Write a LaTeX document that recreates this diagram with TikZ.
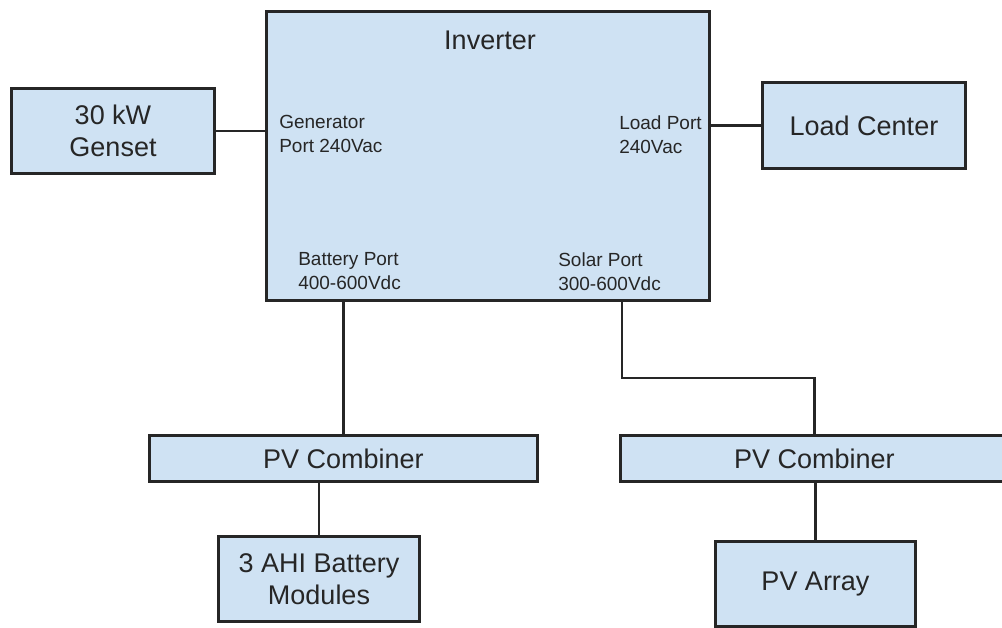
\documentclass[tikz,border=0pt]{standalone}
\usepackage{fontspec}
\setmainfont{Liberation Sans}
\usetikzlibrary{positioning}
\definecolor{boxblue}{HTML}{CFE2F3}
\definecolor{edgegray}{HTML}{262626}

\begin{document}
\begin{tikzpicture}[x=1pt, y=-1pt, line width=2.6pt, draw=edgegray,
  every node/.style={font=\fontsize{27}{32.5}\selectfont, text=edgegray, align=center},
  block/.style={draw=edgegray, fill=boxblue, inner sep=0pt},
  port/.style={font=\fontsize{19}{24}\selectfont, align=left, anchor=north west, inner sep=0pt}]
  \useasboundingbox (0,0) rectangle (1002,627);
  \node[block, minimum width=443, minimum height=289] (inv) at (488,156) {};
  \node (title) at (490,40) {Inverter};
  \node[port] (genport) at (278,113.5) {Generator\\Port 240Vac};
  \node[port] (loadport) at (618,114.5) {Load Port\\240Vac};
  \node[port] (battport) at (297,251.5) {Battery Port\\400-600Vdc};
  \node[port] (solarport) at (557,251.5) {Solar Port\\300-600Vdc};
  \node[block, minimum width=203, minimum height=85] (gen) at (113,131) {30 kW\\Genset};
  \node[block, minimum width=203, minimum height=86] (load) at (864,125.5) {Load Center};
  \node[block, minimum width=388, minimum height=46] (lcomb) at (343.5,458.5) {PV Combiner};
  \node[block, minimum width=388, minimum height=46] (rcomb) at (814.5,458.5) {PV Combiner};
  \node[block, minimum width=201, minimum height=85] (batt) at (319,579) {3 AHI Battery\\Modules};
  \node[block, minimum width=200, minimum height=85] (pva) at (815.5,584) {PV Array};
  \coordinate (solar) at (622,0);
  \draw (gen) -- (gen -| inv.west);
  \draw (load) -- (load -| inv.east);
  \draw (lcomb.north) -- (lcomb.north |- inv.south);
  \draw (batt.north) -- (batt.north |- lcomb.south);
  \draw (inv.south -| solar) -- ++(0,76) -| (rcomb.north);
  \draw (pva.north) -- (pva.north |- rcomb.south);
\end{tikzpicture}
\end{document}
